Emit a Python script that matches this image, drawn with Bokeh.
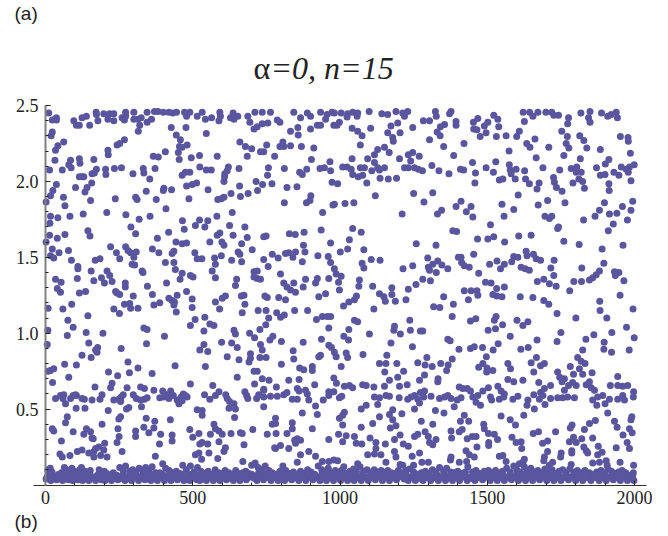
from bokeh.plotting import figure
from bokeh.models import Range1d, FixedTicker, Label, PrintfTickFormatter
from bokeh.embed import file_html
from bokeh.resources import INLINE

x_ticks = [0, 500, 1000, 1500, 2000]
x_minor = [100,200,300,400,600,700,800,900,1100,1200,1300,1400,1600,1700,1800,1900]
y_ticks = [0.5, 1.0, 1.5, 2.0, 2.5]
y_minor = [0.1,0.2,0.3,0.4,0.6,0.7,0.8,0.9,1.1,1.2,1.3,1.4,1.6,1.7,1.8,1.9,2.1,2.2,2.3,2.4]

band_a = [(11,2.45),(37,2.42),(23,2.405),(37,2.405),(96,2.40),(105,2.37),(115,2.37),(124,2.42),(139,2.43),(150,2.37),(172,2.455),(173,2.44),(178,2.40),(198,2.445),(212,2.41),(218,2.445),(232,2.445),(232,2.40),(260,2.42),(272,2.455),(272,2.43),(268,2.405),(300,2.455),(300,2.41),(314,2.41),(325,2.42),(320,2.37),(315,2.33),(345,2.455),(345,2.39),(360,2.41),(370,2.46),(382,2.46),(400,2.455),(419,2.455),(432,2.45),(445,2.455),(472,2.455),(490,2.455),(479,2.43),(515,2.43),(532,2.455),(543,2.41),(564,2.42),(592,2.455),(594,2.43),(589,2.40),(628,2.42),(637,2.45),(640,2.41),(653,2.43),(687,2.43),(694,2.39),(711,2.455),(736,2.455),(764,2.455),(708,2.345),(719,2.36),(736,2.38),(755,2.385),(787,2.405),(796,2.39),(843,2.455),(866,2.42),(889,2.45),(900,2.43),(934,2.455),(956,2.44),(951,2.41),(973,2.455),(832,2.33),(857,2.355),(858,2.305),(900,2.345),(923,2.37),(934,2.37),(979,2.37),
(23,2.325),(19,2.30),(42,2.235),(62,2.26),(34,2.205),(32,2.14),(85,2.14),(115,2.15),(117,2.12),(79,2.11),(87,2.09),(164,2.145),(212,2.205),(213,2.175),(243,2.24),(252,2.25),(268,2.275),(427,2.355),(477,2.355),(546,2.315),(444,2.305),(458,2.275),(455,2.23),(481,2.24),(464,2.225),(451,2.19),(407,2.195),(366,2.165),(383,2.16),(454,2.145),(495,2.155),(523,2.17),(583,2.165),(660,2.26),(679,2.23),(700,2.215),(730,2.195),(741,2.195),(751,2.24),(685,2.165),(778,2.165),(796,2.23),(806,2.26),(809,2.23),(832,2.235),(869,2.23),(911,2.22),(903,2.145),(966,2.13),
(14,2.075),(57,2.075),(173,2.08),(166,2.055),(204,2.08),(205,2.045),(234,2.085),(258,2.09),(297,2.05),(332,2.085),(334,2.055),(372,2.085),(354,2.015),(115,2.03),(124,2.03),(130,2.03),(158,2.05),(157,1.99),(141,1.96),(134,1.93),(102,1.96),(37,1.98),(25,1.94),(17,1.905),(464,2.04),(475,2.06),(490,2.06),(524,2.095),(546,2.075),(563,2.075),(621,2.095),(617,2.07),(609,2.05),(608,2.03),(606,2.0),(657,2.085),(757,2.09),(754,2.04),(811,2.085),(863,2.06),(872,2.045),(887,2.08),(932,2.085),(947,2.09),(968,2.07),(973,1.995),(715,2.0),(737,1.98),(769,1.985),(659,1.97),(720,1.94),(630,1.92),(662,1.90),(688,1.92),(479,1.97),(498,1.98),(513,1.99),(552,1.945),(402,1.955),(428,1.945),(400,1.94),(342,1.935),(820,1.96),(854,1.965),(901,1.905)]

band_b = [(2,1.865),(61,1.895),(66,1.84),(153,1.875),(237,1.885),(306,1.895),(311,1.88),(376,1.88),(487,1.885),(585,1.88),(597,1.885),(606,1.895),(811,1.86),(886,1.86),(898,1.875),(976,1.845),(17,1.77),(42,1.76),(83,1.77),(15,1.725),(128,1.785),(208,1.795),(273,1.78),(409,1.82),(318,1.75),(355,1.77),(290,1.70),(306,1.655),(144,1.675),(151,1.64),(14,1.645),(40,1.625),(66,1.65),(2,1.60),(465,1.74),(471,1.685),(418,1.665),(380,1.625),(509,1.71),(523,1.745),(541,1.70),(551,1.74),(582,1.77),(634,1.795),(625,1.71),(677,1.70),(583,1.645),(592,1.66),(637,1.645),(685,1.63),(666,1.59),(558,1.60),(599,1.60),(443,1.60),(464,1.59),(479,1.595),(828,1.655),(848,1.65),(878,1.665),(741,1.635),(749,1.64),(941,1.795),(936,1.68),(968,1.595),(876,1.58),(606,1.58),
(23,1.555),(17,1.51),(28,1.495),(46,1.53),(78,1.545),(88,1.48),(169,1.48),(185,1.49),(221,1.57),(241,1.53),(252,1.49),(272,1.57),(280,1.545),(289,1.53),(308,1.535),(300,1.50),(294,1.455),(303,1.45),(110,1.44),(363,1.555),(385,1.53),(436,1.54),(430,1.525),(407,1.465),(436,1.465),(507,1.53),(515,1.49),(531,1.49),(574,1.495),(597,1.51),(577,1.455),(632,1.48),(654,1.535),(660,1.52),(666,1.47),(702,1.55),(741,1.485),(770,1.52),(790,1.495),(756,1.44),(815,1.525),(826,1.53),(840,1.50),(849,1.535),(872,1.47),(881,1.535),(925,1.51),(960,1.505),(968,1.465)]

band_c = [(34,1.355),(53,1.335),(40,1.295),(51,1.27),(108,1.36),(115,1.265),(136,1.275),(164,1.345),(190,1.365),(200,1.33),(226,1.34),(209,1.41),(218,1.38),(155,1.41),(110,1.425),(243,1.265),(238,1.275),(252,1.255),(271,1.33),(271,1.305),(298,1.245),(328,1.41),(331,1.40),(346,1.31),(363,1.255),(411,1.33),(457,1.355),(464,1.395),(441,1.42),(492,1.38),(501,1.37),(479,1.275),(498,1.225),(566,1.41),(577,1.365),(649,1.355),(645,1.315),(708,1.405),(719,1.41),(708,1.37),(719,1.36),(730,1.355),(798,1.39),(809,1.33),(820,1.305),(832,1.285),(843,1.33),(849,1.27),(875,1.305),(883,1.355),(917,1.33),(923,1.36),(928,1.24),(951,1.26),(962,1.36),
(368,1.185),(388,1.20),(419,1.23),(430,1.215),(438,1.205),(447,1.25),(444,1.14),(436,1.185),(498,1.17),(577,1.205),(600,1.23),(611,1.245),(591,1.16),(665,1.245),(674,1.25),(677,1.19),(668,1.135),(745,1.245),(753,1.235),(722,1.15),(749,1.15),(792,1.235),(815,1.22),(846,1.15),(890,1.15),(785,1.135),(798,1.105),(811,1.12),(758,1.10),
(232,1.16),(251,1.13),(268,1.19),(286,1.195),(289,1.165),(314,1.165),(89,1.19),(59,1.16),(9,1.165),(144,1.115),(76,1.085),(94,1.04),(8,1.02),(74,.985),(138,1.005),(195,1.00),(334,1.035),(345,1.025),(404,.98),(492,1.05),(508,1.09),(541,1.105),(558,1.06),(572,1.05),(538,1.015),(640,1.02),(645,.995),(693,1.00),(710,.97),(728,1.025),(748,1.055),(772,.98),(762,.955),
(6,.925),(147,.935),(177,.905),(170,.89),(175,.875),(124,.855),(155,.84),(257,.90),(343,.93),(524,.89),(538,.925),(551,.88),(598,.94),(632,.935),(651,.905),(617,.845),(696,.865),(696,.835),(691,.81),(657,.825),(730,.925),(736,.89),(728,.84),(749,.84),(801,.945),(841,.885),(843,.83),(875,.94),(937,.96),(934,.855),(928,.845),(962,.92),(971,.905),(962,1.035),(920,1.09),(940,1.11),(957,1.11),(968,1.11),
(280,.81),(105,.79),(65,.795),(17,.755),(28,.765),(9,.75),(79,.71),(24,.675),(214,.745),(245,.72),(285,.74),(314,.77),(362,.735),(440,.785),(543,.78),(651,.71),(801,.795),(736,.70),(863,.77),(877,.76),(906,.78),(906,.755),(861,.695),(826,.69),(759,.69),(708,.75),(719,.75),(710,.665),(979,.705),
(226,.67),(221,.64),(168,.645),(277,.64),(323,.645),(336,.635),(492,.665),(568,.655),(784,.645),(741,.63),(855,.635),(914,.66)]

band_d = [(34,.57),(51,.59),(62,.595),(59,.57),(68,.535),(85,.57),(94,.59),(102,.595),(105,.59),(124,.57),(132,.565),(158,.56),(185,.565),(192,.595),(232,.56),(249,.565),(257,.58),(264,.595),(255,.55),(298,.595),(308,.57),(323,.56),(336,.565),(345,.575),(368,.625),(398,.62),(425,.62),(388,.575),(402,.58),(411,.595),(419,.57),(434,.59),(447,.56),(453,.535),(461,.58),(468,.60),(475,.59),(481,.58),(464,.555),(540,.595),(558,.565),(577,.59),(589,.615),(612,.595),(617,.57),(625,.55),(640,.535),(677,.615),(683,.59),(687,.57),(717,.57),(724,.595),(741,.625),(741,.58),(764,.585),(787,.585),(809,.595),(820,.61),(838,.565),(855,.565),(861,.62),(883,.625),(889,.60),(894,.56),(917,.52),(943,.56),(962,.59),(979,.615),(962,.615),
(104,.505),(134,.505),(213,.49),(283,.51),(275,.50),(326,.515),(515,.495),(532,.49),(532,.46),(623,.505),(645,.50),(741,.515),(872,.475),(923,.465),(74,.45),(68,.41),(255,.45),(249,.435),(342,.44),(371,.42),(424,.43),(642,.445),(781,.44),(770,.40),(781,.405),(838,.41),(192,.40),
(23,.37),(28,.355),(94,.35),(139,.37),(130,.335),(153,.35),(246,.37),(306,.355),(334,.38),(368,.375),(351,.345),(306,.32),(391,.335),(490,.365),(500,.315),(521,.34),(572,.40),(577,.37),(560,.335),(589,.355),(600,.335),(630,.34),(662,.345),(668,.34),(704,.365),(753,.335),(783,.34),(820,.34),(838,.37),(906,.37),(430,.33),
(54,.29),(162,.305),(158,.31),(250,.32),(243,.28),(201,.275),(430,.29),(387,.27),(524,.27),(532,.28),(551,.27),(589,.285),(674,.265),(611,.245),(855,.305),(846,.295),(866,.295),(849,.275),(798,.26),(778,.245),(826,.24),(962,.30),
(49,.205),(124,.23),(108,.22),(164,.22),(181,.25),(170,.24),(147,.21),(164,.185),(187,.195),(198,.23),(260,.22),(83,.195),(57,.185),(209,.185),(373,.19),(521,.21),(509,.20),(555,.21),(606,.22),(530,.17),(585,.175),(670,.155),(781,.24),(866,.20),(894,.22),(917,.19),(855,.15),(940,.155),(962,.155),(979,.165)]

band_e = [(981,2.45),(1004,2.45),(1026,2.445),(1024,2.425),(1043,2.455),(1060,2.45),(1058,2.43),(1099,2.46),(1142,2.445),(1162,2.44),(1190,2.46),(1213,2.45),(1230,2.46),(1219,2.43),(1324,2.46),(1327,2.43),(1377,2.46),(1372,2.445),(1522,2.435),(1536,2.41),(1468,2.415),(1453,2.39),(1622,2.455),(1644,2.455),(1655,2.43),(1672,2.455),(1699,2.455),(1719,2.455),(1726,2.435),(1742,2.435),(1776,2.42),(1818,2.45),(1849,2.46),(1888,2.45),(1909,2.43),(1921,2.44),(1938,2.455),(1942,2.42),(1844,2.42),(1849,2.39),(1626,2.395),
(998,2.39),(990,2.37),(1041,2.35),(1060,2.33),(1075,2.30),(1104,2.35),(1069,2.24),(1196,2.385),(1173,2.365),(1162,2.32),(1204,2.32),(1179,2.29),(1181,2.265),(1247,2.355),(1283,2.40),(1304,2.40),(1355,2.375),(1341,2.36),(1394,2.395),(1394,2.37),(1330,2.325),(1340,2.30),(1304,2.275),(1421,2.25),(1352,2.23),(1502,2.39),(1490,2.365),(1454,2.345),(1465,2.34),(1539,2.36),(1496,2.32),(1476,2.295),(1531,2.295),(1564,2.30),(1600,2.295),(1609,2.33),(1773,2.38),(1753,2.33),(1772,2.295),(1814,2.30),(1828,2.27),(1662,2.28),(1634,2.25),(1645,2.225),(1709,2.225),(1768,2.25),(1777,2.22),(1838,2.22),(1952,2.295),(1978,2.29),(1979,2.265),(1884,2.21),
(1151,2.225),(1128,2.21),(1117,2.175),(1167,2.19),(1041,2.15),(1094,2.15),(1117,2.125),(1202,2.15),(1240,2.135),(1232,2.175),(1247,2.19),(1269,2.165),(1386,2.17),(1450,2.125),(1529,2.13),(1574,2.20),(1666,2.155),(1760,2.17),(1816,2.15),(1986,2.185),(1913,2.145),(1901,2.115),(1999,2.11),
(1009,2.095),(1024,2.095),(1038,2.08),(1043,2.045),(1069,2.09),(1083,2.09),(1062,2.03),(1077,2.04),(1091,1.99),(1108,2.07),(1128,2.09),(1134,2.075),(1151,2.09),(1136,2.02),(1164,2.015),(1192,2.02),(992,1.985),(1219,2.09),(1232,2.09),(1253,2.09),(1266,2.08),(1280,2.07),(1312,2.105),(1336,2.07),(1370,2.05),(1409,2.08),(1420,2.075),(1460,2.055),(1458,1.99),(1496,2.09),(1521,2.06),(1541,2.01),(1553,2.015),(1575,2.11),(1578,2.075),(1598,2.08),(1581,2.05),(1595,2.015),(1627,2.07),(1630,2.015),(1643,1.985),(1676,1.99),(1669,1.95),(1689,2.09),(1725,2.025),(1728,1.995),(1735,1.96),(1754,1.935),(1746,2.075),(1785,2.085),(1804,2.095),(1802,2.06),(1819,2.06),(1811,2.015),(1791,1.99),(1824,2.00),(1830,1.955),(1871,2.09),(1884,2.04),(1900,2.045),(1913,1.985),(1914,1.94),(1930,2.06),(1947,2.04),(1955,2.095),(1972,2.08),(1983,2.095),(1979,2.06),(1988,2.005)]

band_f = [(1120,1.905),(1250,1.92),(1315,1.925),(1285,1.865),(1605,1.91),(1411,1.87),(1394,1.835),(1445,1.835),(1429,1.80),(1451,1.765),(981,1.85),(1017,1.855),(1047,1.86),(1211,1.785),(1345,1.81),(1331,1.785),(1550,1.85),(1590,1.815),(1557,1.77),(1673,1.845),(1705,1.875),(1764,1.86),(1696,1.77),(1719,1.77),(1711,1.755),(1827,1.745),(1866,1.77),(1881,1.81),(1898,1.86),(1915,1.785),(1940,1.79),(1959,1.835),(1994,1.87),(1988,1.81),(1976,1.745),(1928,1.72),(1911,1.675),(1511,1.715),(1742,1.70),(1739,1.69),(1043,1.69),(1072,1.665),(1383,1.675),(1396,1.67),(1032,1.615),(1467,1.62),(1502,1.62),(1522,1.635),(1607,1.64),(1649,1.645),(1559,1.60),(1760,1.605),(1812,1.585),(1259,1.59),(1326,1.58),(1961,1.58),(1890,1.555),(1026,1.555),(1001,1.535),(1081,1.55),
(1454,1.52),(1298,1.495),(1402,1.50),(1411,1.50),(1106,1.485),(1136,1.48),(1075,1.46),(1081,1.43),(1214,1.425),(1247,1.445),(1300,1.435),(1304,1.415),(1315,1.455),(1332,1.475),(1346,1.45),(1366,1.425),(1327,1.40),(1413,1.465),(1422,1.445),(1439,1.435),(1471,1.395),(1508,1.455),(1533,1.475),(1558,1.455),(1545,1.425),(1583,1.47),(1590,1.505),(1604,1.50),(1632,1.54),(1635,1.51),(1657,1.52),(1666,1.49),(1681,1.48),(1727,1.48),(1615,1.435),(1629,1.425),(1643,1.415),(1716,1.43),(1726,1.38),(1821,1.43),(1896,1.46),(1881,1.41),(1870,1.385),(1858,1.365),(1847,1.35),(1932,1.405),(1947,1.40),(1935,1.38),(1964,1.345),(1794,1.34),(1820,1.34),(1692,1.355),(1670,1.34),(1711,1.325),(1734,1.31),(981,1.425),(987,1.39),(1004,1.375),(995,1.335),(1066,1.35),(1064,1.31),(1111,1.31),(1176,1.30),(1232,1.29),(1258,1.32),(1281,1.355),(1307,1.345),(1494,1.335),(1513,1.33),(1532,1.295),(1558,1.305),(1780,1.28),(1422,1.28),(1445,1.28),(1465,1.28)]

band_g = [(998,1.285),(1134,1.26),(1176,1.255),(1149,1.24),(1154,1.21),(1188,1.21),(1224,1.22),(1056,1.245),(1049,1.22),(1030,1.205),(1012,1.18),(1115,1.16),(1352,1.24),(1385,1.19),(1318,1.175),(1339,1.17),(1436,1.22),(1468,1.25),(1519,1.255),(1533,1.245),(1550,1.24),(1612,1.24),(1655,1.235),(1692,1.215),(1709,1.19),(1737,1.13),(1882,1.21),(1883,1.15),(1906,1.10),(1951,1.25),(1995,1.16),(1801,1.10),
(1381,1.11),(1237,1.085),(1185,1.045),(1183,1.02),(1049,1.085),(1060,1.075),(1030,1.025),(1100,.995),(1239,1.02),(1205,.995),(1281,1.015),(1273,1.015),(1013,.98),(1029,.955),(1173,.935),(1246,.91),(1366,.96),(1374,.95),(1404,.895),(1443,1.08),(1461,1.095),(1530,1.11),(1524,1.085),(1552,1.055),(1528,1.03),(1503,1.02),(1601,1.085),(1621,1.05),(1638,1.075),(1578,.98),(1669,.955),(1750,1.005),(1737,.945),(1862,.99),(1835,.96),(1824,.89),(1897,.94),(1896,.895),(1923,1.005),(1922,.875),(1973,1.04),(1982,.89),(1999,.97),
(1443,.90),(1456,.91),(1484,.905),(1520,.89),(1537,.93),(1614,.895),(1639,.905),(1078,.86),(1021,.87),(1026,.84),(981,.875),(987,.845),(1159,.855),
(1134,.80),(1156,.80),(1193,.80),(1264,.805),(1295,.84),(1289,.79),(1313,.78),(1381,.83),(1367,.79),(1342,.80),(1362,.755),(1497,.845),(1485,.80),(1471,.775),(1499,.77),(1519,.755),(1498,.745),(1004,.78),(1152,.745),(1216,.75),(1287,.725),(1196,.71),(1168,.69),(1333,.70),(1332,.68),(1570,.80),(1579,.765),(1570,.695),(1590,.68),(1621,.69),(1667,.84),(1649,.805),(1681,.785),(1694,.80),(1658,.745),(1675,.675),(1739,.745),(1746,.71),(1762,.70),(1782,.78),(1807,.84),(1819,.815),(1832,.80),(1813,.765),(1793,.73),(1824,.73),(1856,.74),(1943,.715),(1754,.68),(1790,.675),(1802,.655),(1847,.68),(988,.67),(1270,.69)]

band_h = [(1015,.65),(1032,.655),(1043,.64),(1077,.66),(1089,.655),(1115,.645),(1151,.65),(1202,.65),(1228,.66),(1287,.62),(1273,.61),(1405,.645),(1417,.635),(1432,.635),(1443,.62),(1504,.64),(1485,.62),(1536,.65),(1547,.62),(1558,.60),(1715,.655),(1694,.635),(1681,.61),(1658,.595),(1762,.625),(1776,.655),(1836,.66),(1853,.64),(1864,.625),(1918,.655),(1943,.655),(1960,.65),(1977,.655),(1997,.615),
(998,.575),(1006,.585),(1117,.58),(1134,.575),(1156,.59),(1168,.585),(1201,.575),(1230,.565),(1241,.58),(1253,.59),(1264,.565),(1284,.58),(1309,.585),(1338,.57),(1355,.58),(1366,.59),(1377,.57),(1398,.56),(1411,.575),(1451,.58),(1468,.59),(1511,.58),(1515,.56),(1541,.565),(1556,.58),(1587,.565),(1604,.585),(1638,.56),(1677,.565),(1689,.59),(1715,.57),(1739,.575),(1756,.575),(1773,.58),(1796,.575),(1858,.56),(1875,.58),(1892,.59),(1915,.565),(1943,.565),(1960,.59),(1966,.56),(1996,.58),
(1128,.53),(1072,.50),(1089,.525),(1253,.50),(1270,.54),(1388,.515),(1462,.545),(1477,.525),(1635,.525),(1660,.50),(1696,.53),(1872,.525),(1900,.535),
(1015,.48),(1009,.46),(998,.44),(1134,.45),(1179,.495),(1168,.465),(1210,.47),(1324,.49),(1353,.475),(1422,.46),(1409,.42),(1437,.42),(1547,.455),(1578,.43),(1596,.395),(1624,.46),(1909,.475),(1991,.45),(1988,.43),(1867,.425),(1847,.405),(1830,.365),(1788,.395),(1782,.375),(1932,.42),(1941,.38),
(1009,.395),(1072,.38),(1111,.405),(1179,.43),(1190,.39),(1171,.375),(1276,.42),(1315,.40),(1377,.355),(1405,.35),(1415,.365),(1488,.40),(1490,.37),(1504,.34),(1524,.335),(1656,.34),(1674,.35),(1732,.35),(1983,.37),(1992,.345),(1961,.33),
(995,.335),(1021,.325),(1049,.32),(1009,.285),(1055,.275),(1074,.27),(1102,.31),(1122,.28),(1154,.27),(1185,.30),(1204,.33),(1215,.27),(1232,.255),(1253,.32),(1264,.335),(1289,.35),(1300,.32),(1304,.28),(1315,.265),(1326,.30),(1379,.31),(1432,.305),(1449,.32),(1462,.32),(1465,.25),(1505,.28),(1505,.26),(1535,.30),(1584,.315),(1598,.28),(1615,.285),(1617,.24),(1688,.275),(1705,.29),(1779,.285),(1793,.315),(1802,.28),(1821,.305),(1858,.31),(1877,.255),(1975,.28),(1983,.24),(1938,.245),
(1094,.20),(1122,.24),(1117,.205),(1139,.20),(1185,.22),(1190,.185),(1245,.19),(1270,.21),(1428,.225),(1439,.20),(1456,.185),(1377,.185),(1375,.165),(1541,.19),(1553,.195),(1564,.155),(1626,.17),(1705,.22),(1694,.185),(1751,.21),(1749,.185),(1787,.225),(1787,.21),(1828,.25),(1836,.225),(1841,.21),(1875,.20),(1890,.215),(1904,.16),(992,.16),
(1060,.14),(1013,.12),(1156,.15),(1204,.135),(1213,.13),(1250,.13),(1278,.15),(1300,.15),(1405,.15),(1430,.155),(1434,.12),(1609,.14),(1621,.15),(1692,.16),(1722,.15),(1785,.135),(1858,.145),(1881,.15),(1951,.15),(1907,.13),(1997,.13),(1711,.13)]

band_low = [(2,.04),(9,.085),(14,.06),(18,.03),(26,.05),(38,.035),(47,.055),(58,.03),(66,.05),(74,.085),(78,.035),(86,.06),(92,.03),(101,.055),(110,.035),(118,.06),(126,.03),(136,.05),(147,.03),(158,.045),(170,.03),(180,.05),(190,.035),(202,.03),(214,.055),(224,.03),(236,.05),(246,.035),(258,.045),(270,.03),(280,.05),(292,.03),(304,.055),(316,.03),(326,.05),(338,.035),(348,.055),(358,.03),(370,.05),(380,.03),(392,.05),(404,.03),(414,.055),(426,.03),(436,.05),(448,.035),(458,.055),(470,.03),(480,.05),(490,.03),(502,.055),(514,.035),(524,.03),(536,.055),(546,.03),(558,.05),(570,.03),(582,.055),(592,.03),(604,.05),(614,.035),(626,.055),(638,.03),(650,.05),(660,.03),(672,.05),(682,.035),(694,.055),(708,.045),(718,.03),(728,.055),(740,.035),(752,.05),(766,.03),(778,.05),(790,.03),(802,.055),(812,.03),(824,.05),(836,.035),(848,.05),(860,.03),(872,.05),(884,.03),(896,.055),(908,.035),(920,.05),(932,.03),(944,.055),(954,.03),(966,.05),(978,.03),(990,.055),
(1002,.03),(1014,.05),(1026,.03),(1038,.055),(1048,.03),(1060,.05),(1072,.03),(1084,.055),(1096,.03),(1108,.05),(1120,.035),(1132,.055),(1144,.03),(1156,.05),(1168,.03),(1180,.05),(1192,.035),(1204,.055),(1218,.04),(1232,.03),(1244,.05),(1256,.03),(1270,.045),(1282,.03),(1296,.05),(1308,.03),(1320,.055),(1334,.03),(1346,.05),(1358,.03),(1370,.055),(1382,.03),(1394,.05),(1406,.03),(1418,.055),(1432,.03),(1446,.045),(1458,.03),(1470,.05),(1484,.035),(1496,.055),(1510,.03),(1522,.05),(1534,.03),(1546,.055),(1558,.03),(1570,.05),(1582,.035),(1594,.055),(1606,.03),(1618,.05),(1630,.03),(1642,.055),(1654,.03),(1666,.05),(1678,.035),(1690,.055),(1702,.03),(1714,.05),(1726,.03),(1738,.055),(1750,.03),(1762,.05),(1776,.035),(1788,.055),(1800,.03),(1812,.05),(1824,.03),(1838,.05),(1852,.03),(1866,.05),(1880,.03),(1892,.055),(1904,.03),(1916,.05),(1928,.035),(1940,.055),(1952,.03),(1964,.05),(1976,.03),(1988,.05),(1998,.03)]

band_up = [(8,.10),(16,.11),(22,.085),(44,.07),(54,.08),(64,.115),(72,.10),(84,.085),(90,.11),(98,.09),(106,.075),(116,.10),(122,.115),(134,.09),(146,.08),(152,.095),(182,.10),(190,.085),(200,.09),(208,.075),(230,.08),(252,.115),(264,.09),(272,.125),(286,.09),(296,.10),(306,.085),(318,.11),(330,.09),(340,.115),(352,.09),(362,.12),(374,.08),(388,.08),(398,.14),(408,.11),(420,.095),(432,.08),(444,.09),(456,.075),(466,.13),(478,.10),(492,.125),(504,.085),(516,.115),(528,.09),(540,.075),(552,.09),(566,.07),(576,.10),(588,.08),(598,.075),(610,.095),(622,.08),(634,.07),(646,.095),(658,.075),(670,.08),(680,.09),(690,.075),(700,.13),(712,.145),(722,.115),(734,.10),(746,.125),(758,.095),(770,.08),(784,.07),(796,.09),(806,.125),(816,.095),(828,.075),(842,.085),(854,.07),(866,.09),(878,.075),(890,.1),(902,.085),(914,.07),(926,.125),(938,.10),(950,.08),(960,.11),(972,.08),(984,.095),
(996,.085),(1008,.10),(1022,.075),(1034,.09),(1046,.105),(1056,.085),(1068,.12),(1080,.09),(1092,.10),(1104,.08),(1116,.10),(1128,.085),(1140,.095),(1150,.08),(1162,.095),(1174,.08),(1186,.075),(1198,.095),(1210,.08),(1224,.095),(1236,.105),(1250,.085),(1262,.07),(1276,.08),(1290,.09),(1302,.075),(1314,.10),(1326,.085),(1338,.115),(1352,.09),(1362,.11),(1376,.085),(1388,.08),(1400,.09),(1414,.075),(1426,.085),(1450,.085),(1462,.095),(1476,.075),(1490,.09),(1504,.095),(1516,.08),(1528,.095),(1540,.08),(1552,.09),(1566,.11),(1578,.085),(1590,.125),(1600,.10),(1612,.085),(1626,.12),(1636,.095),(1648,.11),(1660,.085),(1672,.095),(1684,.08),(1696,.105),(1708,.085),(1720,.10),(1732,.075),(1744,.09),(1756,.10),(1768,.08),(1780,.105),(1794,.085),(1806,.095),(1818,.08),(1832,.095),(1846,.08),(1858,.07),(1872,.085),(1886,.095),(1898,.08),(1910,.105),(1922,.09),(1934,.075),(1946,.085),(1958,.095),(1970,.08),(1984,.065),(1996,.08)]

band_mid = [(6,.055),(22,.04),(32,.06),(42,.045),(52,.065),(62,.04),(72,.06),(82,.045),(96,.07),(106,.05),(114,.07),(122,.045),(130,.065),(142,.05),(152,.065),(164,.05),(176,.065),(186,.05),(196,.07),(208,.045),(220,.065),(230,.045),(242,.065),(252,.05),(264,.065),(276,.045),(286,.07),(298,.05),(310,.065),(322,.045),(332,.07),(344,.05),(354,.07),(364,.045),(376,.065),(386,.05),(398,.07),(410,.05),(420,.07),(430,.045),(442,.07),(452,.045),(464,.07),(476,.045),(486,.07),(496,.045),(508,.07),(518,.05),(530,.07),(540,.045),(552,.065),(564,.045),(576,.07),(586,.05),(598,.055),(608,.07),(620,.045),(632,.065),(644,.05),(654,.065),(666,.05),(676,.065),(688,.05),(700,.07),(712,.06),(724,.08),(736,.06),(746,.07),(758,.05),(772,.065),(784,.05),(796,.07),(808,.05),(818,.07),(830,.05),(842,.065),(854,.05),(866,.065),(878,.05),(890,.065),(902,.05),(914,.065),(926,.05),(938,.07),(948,.05),(960,.07),(972,.05),(984,.07),
(996,.05),(1008,.065),(1020,.045),(1032,.065),(1044,.045),(1054,.07),(1066,.05),(1078,.07),(1090,.05),(1102,.065),(1114,.05),(1126,.07),(1138,.05),(1150,.065),(1162,.05),(1174,.065),(1186,.05),(1198,.07),(1212,.055),(1226,.065),(1238,.05),(1250,.065),(1264,.05),(1276,.065),(1290,.05),(1302,.065),(1314,.045),(1328,.07),(1340,.05),(1352,.07),(1364,.045),(1376,.07),(1388,.05),(1400,.07),(1412,.05),(1424,.07),(1438,.05),(1452,.065),(1464,.05),(1476,.055),(1490,.05),(1502,.07),(1516,.05),(1528,.065),(1540,.05),(1552,.07),(1564,.05),(1576,.065),(1588,.05),(1600,.07),(1612,.05),(1624,.07),(1636,.05),(1648,.07),(1660,.05),(1672,.07),(1684,.05),(1696,.07),(1708,.05),(1720,.07),(1732,.05),(1744,.07),(1756,.05),(1768,.065),(1782,.05),(1794,.065),(1806,.05),(1818,.07),(1830,.05),(1844,.065),(1858,.05),(1872,.065),(1886,.05),(1898,.07),(1910,.05),(1922,.065),(1934,.05),(1946,.07),(1958,.05),(1970,.065),(1982,.045),(1994,.06)]

all_bands = [band_a, band_b, band_c, band_d, band_e, band_f, band_g, band_h, band_low, band_up, band_mid]
xs = [pt[0] for band in all_bands for pt in band]
ys = [pt[1] for band in all_bands for pt in band]

W, H = 652, 534
x0_px, y0_px = 45.0, 484.5
kx, ky = 0.2945, 151.8

p = figure(width=W, height=H, output_backend="svg", toolbar_location=None,
           x_range=Range1d(-x0_px / kx, (W - x0_px) / kx),
           y_range=Range1d((y0_px - H) / ky, y0_px / ky),
           min_border_left=0, min_border_right=0, min_border_top=0, min_border_bottom=0)
p.outline_line_color = None
p.grid.visible = False
p.background_fill_color = "white"
p.border_fill_color = "white"

p.scatter(xs, ys, size=7, fill_color="#5a559f", line_color=None)

xa = p.xaxis[0]
xa.fixed_location = 0
xa.ticker = FixedTicker(ticks=x_ticks, minor_ticks=x_minor)
xa.bounds = (-41, 2040)
xa.axis_line_color = "#333333"
xa.axis_line_width = 1.2
xa.major_tick_line_color = "#222222"
xa.minor_tick_line_color = "#222222"
xa.major_tick_in = 5; xa.major_tick_out = 0
xa.minor_tick_in = 3; xa.minor_tick_out = 0
xa.major_label_text_font = "Liberation Serif"
xa.major_label_text_font_size = "18px"
xa.major_label_text_color = "#222222"
xa.major_label_standoff = 6

ya = p.yaxis[0]
ya.fixed_location = 0
ya.ticker = FixedTicker(ticks=y_ticks, minor_ticks=y_minor)
ya.formatter = PrintfTickFormatter(format="%.1f")
ya.bounds = (0, 2.5)
ya.axis_line_color = "#808080"
ya.axis_line_width = 2
ya.major_tick_line_color = "#222222"
ya.minor_tick_line_color = "#222222"
ya.major_tick_in = 5; ya.major_tick_out = 0
ya.minor_tick_in = 3; ya.minor_tick_out = 0
ya.major_label_text_font = "Liberation Serif"
ya.major_label_text_font_size = "18px"
ya.major_label_text_color = "#222222"
ya.major_label_standoff = 7

def label(px, py, text, font, size, style="normal"):
    p.add_layout(Label(x=px, y=py, x_units="canvas", y_units="canvas", text=text,
                       text_font=font, text_font_size=size, text_font_style=style,
                       text_color="#222222", text_baseline="alphabetic"))

label(14, 13, "(a)", "Liberation Sans", "19px")
label(14, 521, "(b)", "Liberation Sans", "19px")
label(253, 67, "α", "Liberation Serif", "32px")
label(270, 67, "=0, n=15", "Liberation Serif", "32px", "italic")

open("out.html", "w").write(file_html(p, INLINE))
